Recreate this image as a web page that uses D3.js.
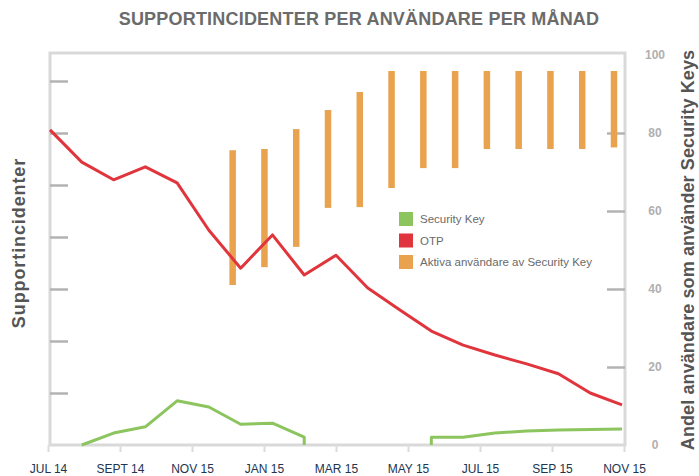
<!DOCTYPE html>
<html>
<head>
<meta charset="utf-8">
<script src="https://cdn.jsdelivr.net/npm/d3@7"></script>
<style>
  body { margin: 0; background: #fff; }
  svg { font-family: "Liberation Sans", Arial, Helvetica, sans-serif; display: block; }
</style>
</head>
<body>
<div id="chart"></div>
<script>
// month tick labels (as printed in the original, incl. the odd "NOV 15"/"JAN 15")
const monthLabels = ["JUL 14", "SEPT 14", "NOV 15", "JAN 15", "MAR 15", "MAY 15", "JUL 15", "SEP 15", "NOV 15"];

// OTP incidents per user, one value per period (left axis, arbitrary units)
const otp = [6.06, 5.44, 5.10, 5.35, 5.04, 4.13, 3.40, 4.04, 3.27, 3.65, 3.02, 2.60, 2.19, 1.92, 1.73, 1.56, 1.37, 1.00, 0.77];

// Security Key incidents per user: period index + value (null = no data)
const keyPeriod = [1, 2, 3, 4, 5, 6, 7, 8, 8, 10, 12, 12, 13, 14, 15, 16, 17, 18];
const keyValue  = [0, 0.23, 0.35, 0.85, 0.73, 0.40, 0.42, 0.15, 0, null, 0, 0.15, 0.15, 0.23, 0.27, 0.29, 0.30, 0.31];

// share of users active on Security Key (right axis, %), low/high per period
const activeFirst = 6;
const activeLow  = [41.0, 45.6, 50.8, 60.8, 61.0, 65.9, 71.0, 71.0, 75.9, 75.9, 75.9, 75.9, 76.3];
const activeHigh = [75.6, 75.9, 81.0, 85.9, 90.5, 95.9, 95.9, 95.9, 95.9, 95.9, 95.9, 95.9, 95.9];

const leftTicks = [1, 2, 3, 4, 5, 6, 7];
const rightTicks = [0, 20, 40, 60, 80, 100];

const legendItems = [
  { name: "Security Key", color: "#8cc45e" },
  { name: "OTP", color: "#e1353d" },
  { name: "Aktiva användare av Security Key", color: "#e9a24d" }
];

const W = 699, H = 476;
const plot = { left: 50, right: 625, top: 53, bottom: 445 };

const svg = d3.select("#chart").append("svg")
  .attr("width", W)
  .attr("height", H);

const x = d3.scaleLinear().domain([0, otp.length - 1]).range([50, 622]);
const xMonth = d3.scaleLinear().domain([0, monthLabels.length - 1]).range([48, 624]);
const yLeft = d3.scaleLinear().domain([0, 7.5]).range([plot.bottom, 55]);
const yRight = d3.scaleLinear().domain([0, 100]).range([plot.bottom, 55]);

// title
svg.append("text")
  .attr("x", 359).attr("y", 25)
  .attr("text-anchor", "middle")
  .style("font-size", "18px").style("font-weight", "bold")
  .style("letter-spacing", "0.2px")
  .style("fill", "#6b6b6b")
  .text("SUPPORTINCIDENTER PER ANVÄNDARE PER MÅNAD");

// frame
svg.append("rect")
  .attr("x", plot.left).attr("y", plot.top)
  .attr("width", plot.right - plot.left).attr("height", plot.bottom - plot.top)
  .attr("fill", "none").attr("stroke", "#d9d9d9").attr("stroke-width", 3);

// left ticks (inward, no labels)
const leftAxis = svg.append("g")
  .attr("transform", `translate(${plot.left},0)`)
  .call(d3.axisRight(yLeft).tickValues(leftTicks).tickSize(18).tickFormat(""));
leftAxis.select(".domain").remove();
leftAxis.selectAll("line").attr("stroke", "#b3b3b3").attr("stroke-width", 2.5);

// right ticks (inward) + labels outside
const rightInner = svg.append("g")
  .attr("transform", `translate(${plot.right},0)`)
  .call(d3.axisLeft(yRight).tickValues([20, 40, 60, 80]).tickSize(18).tickFormat(""));
rightInner.select(".domain").remove();
rightInner.selectAll("line").attr("stroke", "#b3b3b3").attr("stroke-width", 2.5);

const rightLabels = svg.append("g")
  .attr("transform", `translate(${plot.right},0)`)
  .call(d3.axisRight(yRight).tickValues(rightTicks).tickSize(0).tickPadding(30));
rightLabels.select(".domain").remove();
rightLabels.selectAll("text")
  .attr("text-anchor", "middle")
  .style("font-size", "12px").style("font-weight", "bold")
  .style("font-family", "'Liberation Sans', Arial, sans-serif")
  .attr("fill", "#b0b0b0");

// bottom month axis
const bottomAxis = svg.append("g")
  .attr("transform", `translate(0,${plot.bottom})`)
  .call(d3.axisBottom(xMonth).tickValues(d3.range(monthLabels.length))
    .tickFormat(i => monthLabels[i]).tickSize(7).tickPadding(12));
bottomAxis.select(".domain").remove();
bottomAxis.selectAll("line").attr("stroke", "#dcdcdc").attr("stroke-width", 2);
bottomAxis.selectAll("text")
  .style("font-size", "12px")
  .style("font-family", "'Liberation Sans', Arial, sans-serif")
  .attr("fill", "#22344f");

// axis titles
svg.append("text")
  .attr("transform", `translate(25,243) rotate(-90)`)
  .attr("text-anchor", "middle")
  .style("font-size", "18px").style("font-weight", "bold")
  .style("letter-spacing", "0.9px")
  .style("fill", "#555")
  .text("Supportincidenter");

svg.append("text")
  .attr("transform", `translate(694,250) rotate(-90)`)
  .attr("text-anchor", "middle")
  .style("font-size", "18px").style("font-weight", "bold")
  .style("letter-spacing", "0.1px")
  .style("fill", "#555")
  .text("Andel användare som använder Security Keys");

// orange range bars
svg.append("g").selectAll("line")
  .data(activeLow.map((lo, i) => ({ i: activeFirst + i, lo: lo, hi: activeHigh[i] })))
  .join("line")
  .attr("x1", d => x(d.i) - 8).attr("x2", d => x(d.i) - 8)
  .attr("y1", d => yRight(d.lo)).attr("y2", d => yRight(d.hi))
  .attr("stroke", legendItems[2].color)
  .attr("stroke-width", 6.5);

// OTP line
svg.append("path")
  .datum(otp)
  .attr("fill", "none")
  .attr("stroke", legendItems[1].color)
  .attr("stroke-width", 3)
  .attr("stroke-linejoin", "round")
  .attr("d", d3.line().x((d, i) => x(i)).y(d => yLeft(d)));

// Security Key line
const keyData = keyPeriod.map((p, i) => ({ p: p, v: keyValue[i] }));
svg.append("path")
  .datum(keyData)
  .attr("fill", "none")
  .attr("stroke", legendItems[0].color)
  .attr("stroke-width", 3)
  .attr("stroke-linejoin", "round")
  .attr("d", d3.line().defined(d => d.v !== null).x(d => x(d.p)).y(d => yLeft(d.v)));

// legend
const legend = svg.append("g").attr("transform", "translate(399,212)");
const rows = legend.selectAll("g")
  .data(legendItems)
  .join("g")
  .attr("transform", (d, i) => `translate(0,${i * 21.5})`);
rows.append("rect")
  .attr("width", 14).attr("height", 14)
  .attr("fill", d => d.color);
rows.append("text")
  .attr("x", 21).attr("y", 11)
  .style("font-size", "11.5px")
  .style("fill", "#6a6a6a")
  .text(d => d.name);
</script>
</body>
</html>
